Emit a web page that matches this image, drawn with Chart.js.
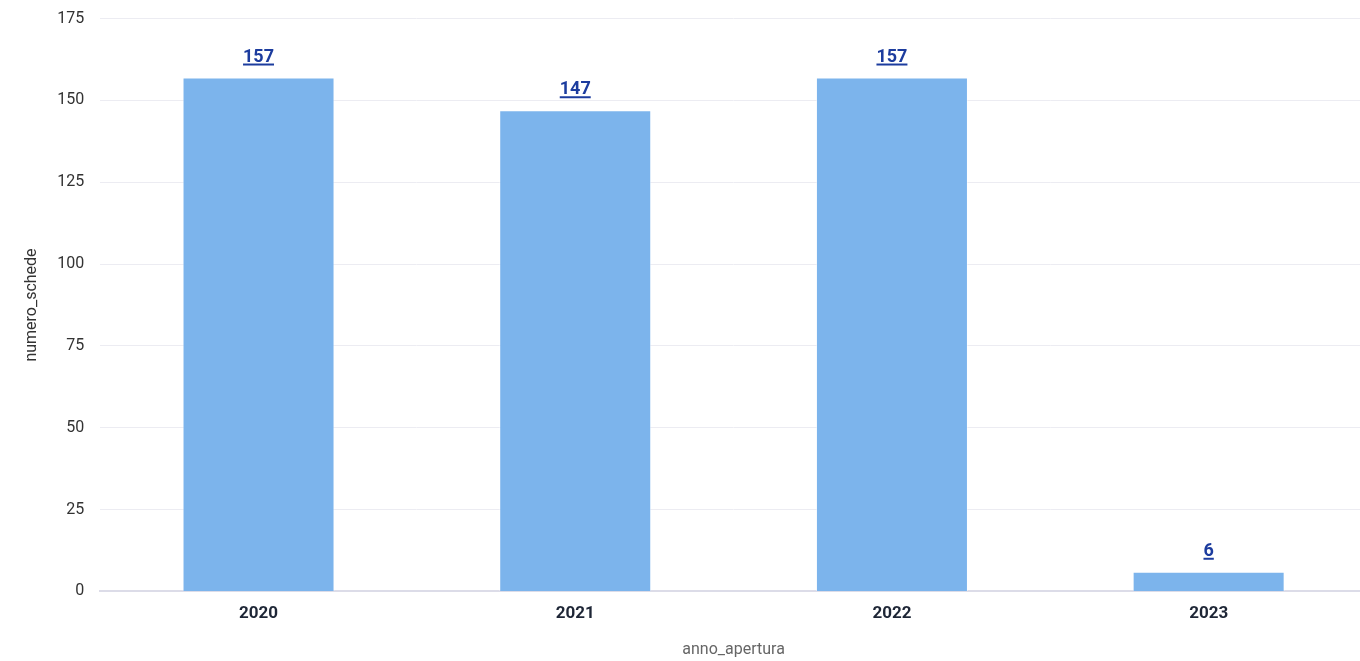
<!DOCTYPE html>
<html>
<head>
<meta charset="utf-8">
<script src="https://cdn.jsdelivr.net/npm/chart.js@4"></script>
<style>
  html, body { margin: 0; padding: 0; background: #ffffff; overflow: hidden; }
  #wrap { width: 1367px; height: 668px; margin-top: -7px; }
</style>
</head>
<body>
<div id="wrap"><canvas id="schede-chart"></canvas></div>
<script>
    "use strict";

    // Data
    var anni = ["2020", "2021", "2022", "2023"];
    var numeroSchede = [157, 147, 157, 6];
    var yTicks = [0, 25, 50, 75, 100, 125, 150, 175];

    // Value labels above each bar, bold and underlined
    var valueLabels = {
        id: "valueLabels",
        afterDatasetsDraw: function (chart) {
            var ctx = chart.ctx;
            var meta = chart.getDatasetMeta(0);
            ctx.save();
            ctx.font = "bold 18px Roboto";
            ctx.fillStyle = "#1c3c9e";
            ctx.strokeStyle = "#1c3c9e";
            ctx.textAlign = "center";
            ctx.textBaseline = "alphabetic";
            meta.data.forEach(function (bar, i) {
                var txt = String(chart.data.datasets[0].data[i]);
                var w = ctx.measureText(txt).width;
                var baseY = bar.y - 16;
                ctx.fillText(txt, bar.x, baseY);
                ctx.lineWidth = 2;
                ctx.beginPath();
                ctx.moveTo(bar.x - w / 2, baseY + 3);
                ctx.lineTo(bar.x + w / 2, baseY + 3);
                ctx.stroke();
            });
            ctx.restore();
        }
    };

    Chart.defaults.font.family = "Roboto";

    var ctx1 = document.getElementById("schede-chart").getContext("2d");
    var myChart1 = new Chart(ctx1, {
        type: "bar",
        data: {
            labels: anni,
            datasets: [{
                label: "numero_schede",
                data: numeroSchede,
                backgroundColor: "#7cb4ec",
                borderColor: "rgba(255, 255, 255, 0.5)",
                borderWidth: 1,
                barPercentage: 0.48,
                categoryPercentage: 1
            }]
        },
        options: {
            responsive: true,
            maintainAspectRatio: false,
            animation: false,
            layout: {
                padding: { top: 0, right: 0, left: 18, bottom: 0 }
            },
            plugins: {
                legend: { display: false },
                tooltip: { enabled: false }
            },
            scales: {
                x: {
                    grid: { display: false },
                    border: { color: "#dcdce8", width: 2 },
                    ticks: {
                        color: "#1e2636",
                        font: { size: 17, weight: "bold" },
                        padding: 4
                    },
                    title: {
                        display: true,
                        text: "anno_apertura",
                        color: "#666666",
                        font: { size: 16 },
                        padding: { top: 13, bottom: 1 }
                    }
                },
                y: {
                    min: 0,
                    max: 175,
                    afterBuildTicks: function (axis) {
                        axis.ticks = yTicks.map(function (v) { return { value: v }; });
                    },
                    grid: { color: "#ececf2", drawTicks: false },
                    border: { display: false },
                    ticks: {
                        color: "#333333",
                        font: { size: 16 },
                        padding: 16
                    },
                    title: {
                        display: true,
                        text: "numero_schede",
                        color: "#333333",
                        font: { size: 16 },
                        padding: { top: 4, bottom: 0 }
                    }
                }
            }
        },
        plugins: [valueLabels]
    });
</script>
</body>
</html>
